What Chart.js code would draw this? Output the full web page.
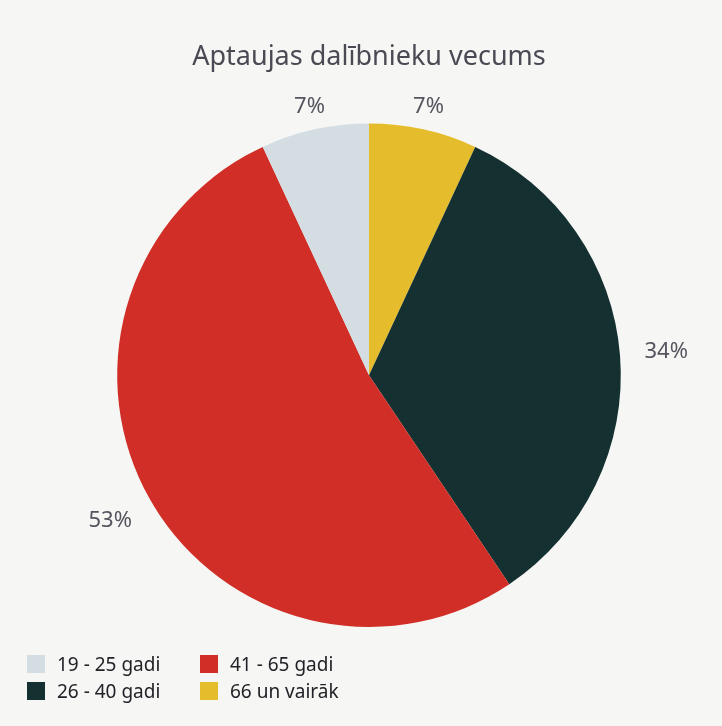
<!DOCTYPE html>
<html>
<head>
<meta charset="utf-8">
<script src="https://cdn.jsdelivr.net/npm/chart.js@4.4.1/dist/chart.umd.min.js"></script>
<style>
  body { margin: 0; background: #f6f6f4; }
  #wrap { position: relative; width: 722px; height: 726px; background: #f6f6f4; }
  #legend { position: absolute; left: 27px; top: 653px; width: 360px;
    display: grid; grid-template-columns: 173px 180px; grid-row-gap: 5px;
    font-family: "Noto Sans", sans-serif; font-size: 19px; color: #222228; }
  #legend div { display: flex; align-items: center; height: 22px; }
  #legend span.box { display: inline-block; width: 18px; height: 18px; margin-right: 12px; }
</style>
</head>
<body>
<div id="wrap">
  <canvas id="vecumsChart" width="722" height="726"></canvas>
  <div id="legend"></div>
</div>
<script>
// dati
var grupas = ["66 un vairāk", "26 - 40 gadi", "41 - 65 gadi", "19 - 25 gadi"];
var procenti = [7, 34, 53, 7];
var krasas = ["#e5bd2c", "#143030", "#d02e27", "#d3dde2"];
// legendas secība kā attēlā
var legendasSeciba = ["19 - 25 gadi", "41 - 65 gadi", "26 - 40 gadi", "66 un vairāk"];

/* PROCENTU UZRAKSTI AP APLI */
var procentuUzraksti = {
  id: "procentuUzraksti",
  afterDatasetsDraw: function (chart) {
    var ctx = chart.ctx;
    var meta = chart.getDatasetMeta(0);
    ctx.save();
    ctx.font = "22px 'Noto Sans', sans-serif";
    ctx.fillStyle = "#55555f";
    ctx.textAlign = "center";
    ctx.textBaseline = "middle";
    meta.data.forEach(function (arc, i) {
      var p = arc.getProps(["x", "y", "startAngle", "endAngle", "outerRadius"], true);
      var mid = (p.startAngle + p.endAngle) / 2;
      var teksts = procenti[i] + "%";
      var w = ctx.measureText(teksts).width / 2;
      var r = p.outerRadius + 8 + (w + 16) * Math.abs(Math.cos(mid)) + 9 * Math.abs(Math.sin(mid));
      ctx.fillText(teksts, p.x + Math.cos(mid) * r, p.y + Math.sin(mid) * r);
    });
    ctx.restore();
  }
};

var ctx = document.getElementById("vecumsChart");
var myChart = new Chart(ctx, {
  type: "pie",
  data: {
    labels: grupas,
    datasets: [{
      data: procenti,
      backgroundColor: krasas,
      borderWidth: 0
    }]
  },
  options: {
    responsive: false,
    animation: false,
    layout: { padding: { left: 117, right: 101, top: 0, bottom: 99 } },
    plugins: {
      legend: { display: false },
      tooltip: { enabled: false },
      title: {
        display: true,
        text: "Aptaujas dalībnieku vecums",
        color: "#4a4a54",
        font: { family: "'Noto Sans', sans-serif", size: 27, weight: "normal", lineHeight: 1.2 },
        padding: { top: 41, bottom: 50 }
      }
    }
  },
  plugins: [procentuUzraksti]
});

/* HTML LEGENDA */
var legenda = document.getElementById("legend");
for (var i = 0; i < legendasSeciba.length; i++) {
  var idx = grupas.indexOf(legendasSeciba[i]);
  var html = "<div><span class='box' style='background:" + krasas[idx] + "'></span>" + grupas[idx] + "</div>";
  legenda.innerHTML += html;
}
</script>
</body>
</html>
